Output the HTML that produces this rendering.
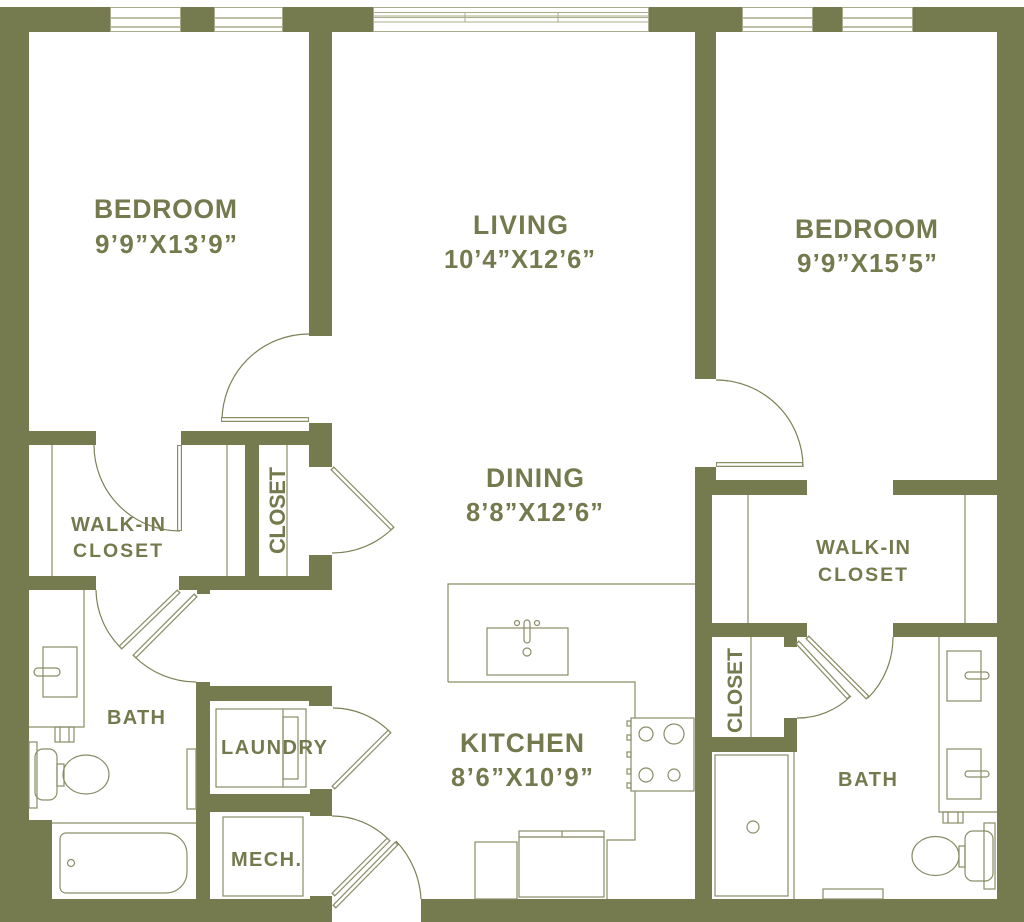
<!DOCTYPE html>
<html>
<head>
<meta charset="utf-8">
<style>
html,body{margin:0;padding:0;background:#fff;}
svg{display:block;}
text{font-family:"Liberation Sans",Arial,sans-serif;font-weight:bold;fill:#757a4e;}
</style>
</head>
<body>
<svg width="1024" height="922" viewBox="0 0 1024 922" xmlns="http://www.w3.org/2000/svg">
<rect x="0" y="0" width="1024" height="922" fill="#fff"/>

<!-- WALLS -->
<g fill="#767a4f">
  <rect x="0" y="7" width="1024" height="25"/>
  <rect x="0" y="7" width="29" height="915"/>
  <rect x="997" y="7" width="27" height="915"/>
  <rect x="0" y="899" width="332" height="23"/>
  <rect x="421" y="899" width="603" height="23"/>
  <rect x="0" y="820" width="52" height="102"/>

  <rect x="309" y="7" width="23" height="329"/>
  <rect x="309" y="423" width="23" height="44"/>
  <rect x="29" y="431" width="67" height="14"/>
  <rect x="181" y="431" width="151" height="14"/>
  <rect x="245" y="445" width="14" height="131"/>
  <rect x="309" y="555" width="23" height="34"/>
  <rect x="29" y="576" width="67" height="14"/>
  <rect x="179" y="576" width="153" height="14"/>
  <rect x="197" y="589" width="13" height="5"/>
  <rect x="196" y="682" width="14" height="217"/>
  <rect x="196" y="686" width="136" height="15"/>
  <rect x="309" y="686" width="23" height="20"/>
  <rect x="210" y="794" width="122" height="18"/>
  <rect x="310" y="789" width="22" height="27"/>
  <rect x="310" y="896" width="22" height="26"/>

  <rect x="695" y="7" width="21" height="372"/>
  <rect x="695" y="467" width="21" height="13"/>
  <rect x="695" y="480" width="17" height="419"/>
  <rect x="695" y="480" width="112" height="15"/>
  <rect x="893" y="480" width="104" height="15"/>
  <rect x="712" y="623" width="95" height="14"/>
  <rect x="893" y="623" width="104" height="14"/>
  <rect x="784" y="637" width="13" height="10"/>
  <rect x="784" y="718" width="13" height="34"/>
  <rect x="712" y="737" width="85" height="15"/>
</g>

<!-- WINDOWS -->
<g fill="#fff" stroke="#a9ac8c" stroke-width="1">
  <rect x="110.5" y="7.5" width="70" height="24"/>
  <rect x="214.5" y="7.5" width="68" height="24"/>
  <rect x="742.5" y="7.5" width="70" height="24"/>
  <rect x="842.5" y="7.5" width="70" height="24"/>
  <rect x="373.5" y="7.5" width="275" height="24"/>
</g>
<g stroke="#a9ac8c" stroke-width="1.6" fill="none">
  <path d="M110 18H181M110 27H181M214 18H283M214 27H283M742 18H813M742 27H813M842 18H913M842 27H913"/>
</g>
<g stroke="#a9ac8c" stroke-width="1" fill="none">
  <path d="M373 12.5H649M373 16H649M373 17.5H649M373 22H649M465 12V22M558 12V22"/>
</g>

<!-- THIN LINES / FIXTURES -->
<g fill="none" stroke="#8a8d66" stroke-width="1.2">
  <path d="M52 445V576M227 445V576M287 445V576"/>
  <path d="M748 495V623M965 495V623M751 637V737"/>

  <path d="M448 682V584H695M448 682H635V718M635 791V840H607V899"/>
  <rect x="487" y="628" width="81" height="47"/>
  <rect x="524" y="620" width="6" height="23" rx="3"/>
  <circle cx="517" cy="623" r="2.5"/>
  <circle cx="537" cy="623" r="2.5"/>
  <circle cx="527" cy="652" r="4"/>
  <rect x="631" y="718" width="63" height="73"/>
  <circle cx="646" cy="734" r="7"/>
  <circle cx="674" cy="734" r="10"/>
  <circle cx="646" cy="775" r="7"/>
  <circle cx="674" cy="775" r="6"/>
  <rect x="627" y="721" width="4" height="5"/>
  <rect x="627" y="735" width="4" height="5"/>
  <rect x="627" y="752" width="4" height="5"/>
  <rect x="627" y="769" width="4" height="5"/>
  <rect x="627" y="783" width="4" height="5"/>
  <rect x="519" y="831" width="85" height="6"/>
  <path d="M562 831V837"/>
  <rect x="519" y="837" width="85" height="60"/>
  <rect x="475" y="842" width="42" height="57"/>

  <path d="M84 590V727H29"/>
  <rect x="43" y="647" width="34" height="50"/>
  <rect x="34" y="668" width="26" height="8" rx="4"/>
  <rect x="55" y="727" width="19" height="15"/>
  <path d="M60 727V742M69 727V742"/>
  <rect x="29" y="742" width="8" height="66"/>
  <rect x="35" y="749" width="22" height="51" rx="8"/>
  <rect x="57" y="764" width="7" height="22"/>
  <ellipse cx="86" cy="774.5" rx="23" ry="19.5"/>
  <rect x="187" y="749" width="9" height="60"/>
  <path d="M52 823H196"/>
  <path d="M66 833H166A21 21 0 0 1 187 854V872A21 21 0 0 1 166 893H66A6 6 0 0 1 60 887V839A6 6 0 0 1 66 833Z"/>
  <circle cx="71" cy="863" r="3.5"/>

  <rect x="216" y="709" width="90" height="78"/>
  <path d="M283 709V787"/>
  <rect x="283" y="717" width="15" height="62"/>
  <rect x="223" y="817" width="80" height="79"/>

  <path d="M794 752V899"/>
  <rect x="715" y="755" width="73" height="141"/>
  <circle cx="753" cy="827" r="6"/>
  <path d="M939 637V812H997"/>
  <rect x="947" y="651" width="34" height="50"/>
  <rect x="947" y="749" width="34" height="50"/>
  <rect x="965" y="672" width="24" height="7" rx="3.5"/>
  <rect x="965" y="771" width="24" height="6" rx="3"/>
  <rect x="943" y="812" width="20" height="11"/>
  <path d="M948 812V823M958 812V823"/>
  <ellipse cx="935.5" cy="856" rx="23.5" ry="19.5"/>
  <rect x="959" y="846" width="6" height="21"/>
  <rect x="965" y="831" width="28" height="50" rx="8"/>
  <rect x="984" y="823" width="11" height="66"/>
  <rect x="823" y="889" width="60" height="10"/>
</g>

<!-- DOOR ARCS -->
<g fill="none" stroke="#7e8158" stroke-width="1.2">
  <path d="M309 334A87 87 0 0 0 222 421"/>
  <path d="M94 445A86 86 0 0 0 180 531"/>
  <path d="M393 528A86 86 0 0 1 332 553"/>
  <path d="M96 590A83 83 0 0 0 120 647"/>
  <path d="M134 656A88 88 0 0 0 196 682"/>
  <path d="M333 708A80 80 0 0 1 390 732"/>
  <path d="M332 816A79 79 0 0 1 388 839"/>
  <path d="M396 841A91 91 0 0 1 421 899"/>
  <path d="M716 380A87 87 0 0 1 803 467"/>
  <path d="M851 696A76 76 0 0 1 797 718"/>
  <path d="M868 698A86 86 0 0 0 893 637"/>
</g>

<!-- DOOR LEAVES (double line) -->
<g fill="none" stroke="#8a8d66" stroke-width="5" stroke-linecap="butt">
  <path d="M221 419.5H309"/>
  <path d="M179.5 445V531"/>
  <path d="M332 468L393 529"/>
  <path d="M179 591L120 648"/>
  <path d="M196 595L134 657"/>
  <path d="M333 788L390 731"/>
  <path d="M333 895L389 839"/>
  <path d="M334 907L397 843"/>
  <path d="M716 464.5H803"/>
  <path d="M797 642L849 698"/>
  <path d="M807 637L868 698"/>
</g>
<g fill="none" stroke="#fff" stroke-width="2.6" stroke-linecap="butt">
  <path d="M222 419.5H308"/>
  <path d="M179.5 446V530"/>
  <path d="M333 469L392 528"/>
  <path d="M178 592L121 647"/>
  <path d="M195 596L135 656"/>
  <path d="M334 787L389 732"/>
  <path d="M334 894L388 840"/>
  <path d="M335 906L396 844"/>
  <path d="M717 464.5H802"/>
  <path d="M798 643L848 697"/>
  <path d="M808 638L867 697"/>
</g>

<!-- LABELS -->
<text x="94" y="218" font-size="26.5" textLength="143" lengthAdjust="spacing">BEDROOM</text>
<text x="95" y="253" font-size="26" textLength="142" lengthAdjust="spacing">9’9”X13’9”</text>
<text x="473" y="234" font-size="26.5" textLength="95" lengthAdjust="spacing">LIVING</text>
<text x="444" y="268" font-size="25.5" textLength="151" lengthAdjust="spacing">10’4”X12’6”</text>
<text x="795" y="238" font-size="26.5" textLength="143" lengthAdjust="spacing">BEDROOM</text>
<text x="797" y="272" font-size="26" textLength="140" lengthAdjust="spacing">9’9”X15’5”</text>
<text x="486" y="487" font-size="26.5" textLength="98" lengthAdjust="spacing">DINING</text>
<text x="466" y="521" font-size="25.5" textLength="137" lengthAdjust="spacing">8’8”X12’6”</text>
<text x="460" y="752" font-size="26.5" textLength="124" lengthAdjust="spacing">KITCHEN</text>
<text x="451" y="786" font-size="25.5" textLength="142" lengthAdjust="spacing">8’6”X10’9”</text>

<text x="71" y="531" font-size="20" textLength="94" lengthAdjust="spacing">WALK-IN</text>
<text x="73" y="557" font-size="19.5" textLength="89" lengthAdjust="spacing">CLOSET</text>
<text x="816" y="554" font-size="20" textLength="94" lengthAdjust="spacing">WALK-IN</text>
<text x="818" y="581" font-size="19.5" textLength="89" lengthAdjust="spacing">CLOSET</text>
<text x="107" y="724" font-size="20" textLength="58" lengthAdjust="spacing">BATH</text>
<text x="838" y="786" font-size="20" textLength="59" lengthAdjust="spacing">BATH</text>
<text x="221" y="754" font-size="20" textLength="106" lengthAdjust="spacing">LAUNDRY</text>
<text x="231" y="866" font-size="20" textLength="70" lengthAdjust="spacing">MECH.</text>
<text transform="translate(285,554) rotate(-90)" x="0" y="0" font-size="22" textLength="87" lengthAdjust="spacing">CLOSET</text>
<text transform="translate(742,733) rotate(-90)" x="0" y="0" font-size="21" textLength="85" lengthAdjust="spacing">CLOSET</text>
</svg>
</body>
</html>
